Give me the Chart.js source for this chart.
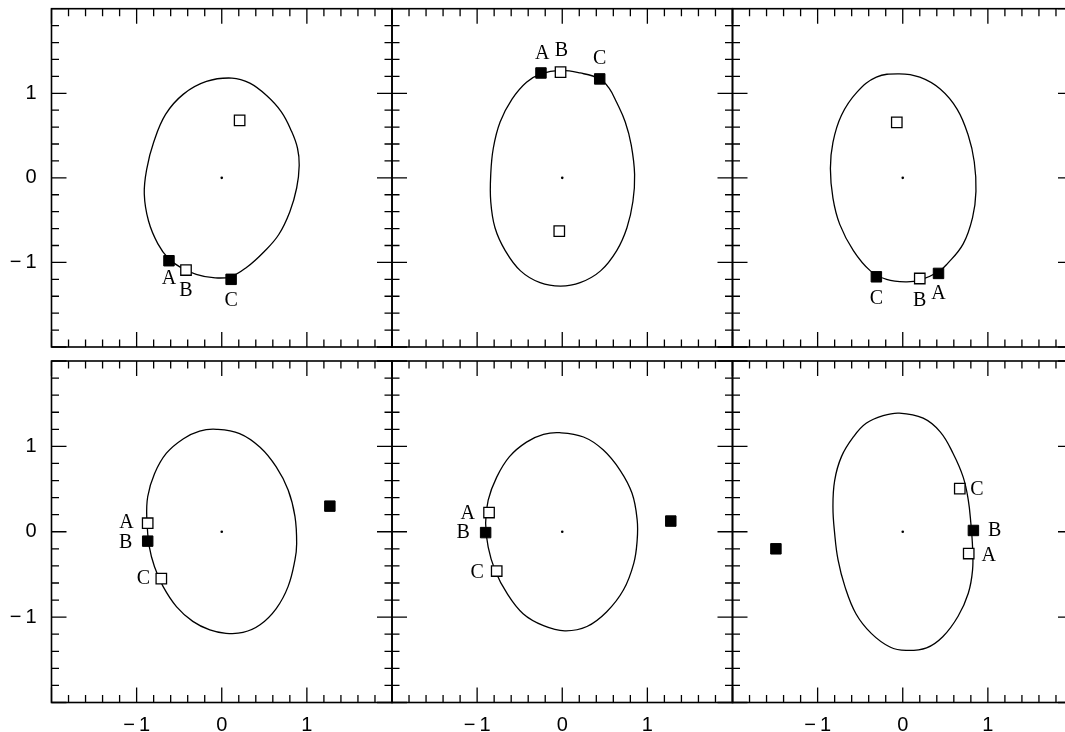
<!DOCTYPE html>
<html lang="en">
<head>
  <meta charset="UTF-8" />
  <title>Six panels - orbits</title>
  <style>
    html, body { margin: 0; padding: 0; background: #fff; overflow: hidden; }
    #wrap { position: relative; width: 1065px; height: 732px; overflow: hidden; }
    #wrap canvas { position: absolute; left: 0; top: 0; }
  </style>
</head>
<body>
  <div id="wrap">
    <canvas id="p1" width="1090" height="732"></canvas>
    <canvas id="p2" width="1090" height="732"></canvas>
    <canvas id="p3" width="1090" height="732"></canvas>
    <canvas id="p4" width="1090" height="732"></canvas>
    <canvas id="p5" width="1090" height="732"></canvas>
    <canvas id="p6" width="1090" height="732"></canvas>
  </div>

  <script src="https://cdn.jsdelivr.net/npm/chart.js"></script>
  <script>
    // axis range and ticks (same for every panel)
    const axisMin = -2, axisMax = 2, majorStep = 1, minorStep = 0.2;
    const centre = [[0, 0]];

    // panel 1 (top left) - closed curves, last point joins back to the first
    const curve1 = [[0.12,1.18],[0.33,1.12],[0.53,0.97],[0.70,0.78],[0.82,0.55],[0.89,0.35],[0.91,0.15],[0.88,-0.12],[0.80,-0.40],[0.67,-0.67],[0.50,-0.87],[0.29,-1.06],[0.10,-1.17],[-0.10,-1.18],[-0.30,-1.14],[-0.48,-1.06],[-0.62,-0.96],[-0.75,-0.78],[-0.86,-0.51],[-0.91,-0.19],[-0.88,0.11],[-0.80,0.42],[-0.66,0.75],[-0.45,0.99],[-0.18,1.14]];
    const filled1 = [[-0.62,-0.98],[0.11,-1.20]];
    const open1 = [[-0.42,-1.09],[0.21,0.68]];
    const letters1 = [['A',-0.62,-1.19],['B',-0.42,-1.33],['C',0.11,-1.45]];

    // panel 2 (top middle)
    const curve2 = [[-0.02,1.27],[0.21,1.24],[0.44,1.17],[0.55,1.06],[0.64,0.89],[0.74,0.66],[0.81,0.39],[0.85,0.04],[0.83,-0.28],[0.76,-0.59],[0.64,-0.86],[0.45,-1.10],[0.21,-1.24],[-0.02,-1.28],[-0.26,-1.24],[-0.49,-1.10],[-0.67,-0.86],[-0.79,-0.59],[-0.84,-0.28],[-0.84,0.04],[-0.81,0.35],[-0.73,0.66],[-0.59,0.93],[-0.42,1.13],[-0.25,1.23]];
    const filled2 = [[-0.25,1.24],[0.44,1.17]];
    const open2 = [[-0.02,1.25],[-0.035,-0.63]];
    const letters2 = [['A',-0.235,1.47],['B',-0.01,1.50],['C',0.44,1.41]];

    // panel 3 (top right)
    const curve3 = [[-0.04,1.23],[0.20,1.19],[0.44,1.05],[0.64,0.81],[0.77,0.50],[0.84,0.19],[0.86,-0.16],[0.82,-0.47],[0.71,-0.78],[0.52,-1.02],[0.42,-1.11],[0.20,-1.21],[0.03,-1.23],[-0.19,-1.20],[-0.38,-1.10],[-0.58,-0.86],[-0.74,-0.55],[-0.82,-0.24],[-0.85,0.11],[-0.82,0.42],[-0.72,0.74],[-0.54,1.01],[-0.31,1.19]];
    const filled3 = [[-0.31,-1.17],[0.42,-1.13]];
    const open3 = [[0.20,-1.19],[-0.07,0.655]];
    const letters3 = [['C',-0.31,-1.43],['B',0.20,-1.45],['A',0.42,-1.37]];

    // panel 4 (bottom left)
    const curve4 = [[-0.06,1.20],[0.21,1.15],[0.45,0.99],[0.64,0.76],[0.78,0.49],[0.86,0.18],[0.88,-0.14],[0.86,-0.33],[0.78,-0.64],[0.64,-0.90],[0.45,-1.09],[0.25,-1.18],[0.05,-1.19],[-0.14,-1.15],[-0.34,-1.05],[-0.53,-0.88],[-0.69,-0.64],[-0.79,-0.41],[-0.85,-0.18],[-0.88,0.14],[-0.87,0.41],[-0.79,0.68],[-0.65,0.92],[-0.45,1.09],[-0.26,1.18]];
    const filled4 = [[-0.87,-0.11],[1.27,0.30]];
    const open4 = [[-0.87,0.10],[-0.71,-0.55]];
    const letters4 = [['A',-1.12,0.10],['B',-1.13,-0.13],['C',-0.92,-0.55]];

    // panel 5 (bottom middle)
    const curve5 = [[-0.03,1.16],[0.25,1.11],[0.48,0.96],[0.68,0.72],[0.82,0.45],[0.88,0.14],[0.88,-0.10],[0.84,-0.37],[0.72,-0.68],[0.52,-0.94],[0.29,-1.11],[0.03,-1.16],[-0.22,-1.10],[-0.46,-0.96],[-0.65,-0.72],[-0.79,-0.45],[-0.87,-0.18],[-0.90,0.10],[-0.87,0.37],[-0.77,0.64],[-0.62,0.88],[-0.42,1.05],[-0.22,1.14]];
    const filled5 = [[-0.90,-0.01],[1.275,0.125]];
    const open5 = [[-0.86,0.225],[-0.77,-0.46]];
    const letters5 = [['A',-1.11,0.21],['B',-1.165,-0.015],['C',-1.00,-0.475]];

    // panel 6 (bottom right)
    const curve6 = [[-0.04,1.39],[0.24,1.33],[0.44,1.17],[0.59,0.92],[0.71,0.64],[0.77,0.37],[0.80,0.10],[0.82,-0.18],[0.82,-0.45],[0.77,-0.72],[0.65,-0.99],[0.47,-1.23],[0.28,-1.36],[0.04,-1.39],[-0.15,-1.35],[-0.37,-1.19],[-0.55,-0.96],[-0.68,-0.64],[-0.76,-0.33],[-0.80,-0.02],[-0.82,0.29],[-0.80,0.60],[-0.72,0.88],[-0.58,1.11],[-0.43,1.27],[-0.23,1.36]];
    const filled6 = [[0.83,0.015],[-1.49,-0.20]];
    const open6 = [[0.67,0.505],[0.775,-0.255]];
    const letters6 = [['C',0.87,0.495],['B',1.08,0.01],['A',1.01,-0.28]];

    // page layout of the panel boxes
    const colLeft = [51.5, 392, 732.5];
    const rowTop = [5.5, 361];
    const boxW = 340.5, boxH = 341.5;
    const canvasW = 1090, canvasH = 732;

    const panels = [
      { id: 'p1', col: 0, row: 0, curve: curve1, filled: filled1, open: open1, letters: letters1 },
      { id: 'p2', col: 1, row: 0, curve: curve2, filled: filled2, open: open2, letters: letters2 },
      { id: 'p3', col: 2, row: 0, curve: curve3, filled: filled3, open: open3, letters: letters3 },
      { id: 'p4', col: 0, row: 1, curve: curve4, filled: filled4, open: open4, letters: letters4 },
      { id: 'p5', col: 1, row: 1, curve: curve5, filled: filled5, open: open5, letters: letters5 },
      { id: 'p6', col: 2, row: 1, curve: curve6, filled: filled6, open: open6, letters: letters6 }
    ];

    const pts = arr => arr.map(([x, y]) => ({ x, y }));

    const tickText = v => {
      if (v <= axisMin || v >= axisMax) return '';
      return v < 0 ? '\u2212\u2009' + Math.abs(v) : String(v);
    };

    // make the curve dataset a closed smooth loop (the way the radar chart does it)
    const closeLoop = {
      id: 'closeLoop',
      afterDatasetsUpdate(chart) {
        const line = chart.getDatasetMeta(0).dataset;
        line._loop = true;
        line._fullLoop = true;
        line.points = line.points;
      }
    };

    // frame with inward ticks on all four sides
    const frameTicks = {
      id: 'frameTicks',
      afterDatasetsDraw(chart) {
        const { ctx, chartArea: a, scales: { x, y } } = chart;
        const n = Math.round((axisMax - axisMin) / minorStep);
        const perMajor = Math.round(majorStep / minorStep);
        ctx.save();
        ctx.strokeStyle = '#000';
        ctx.lineWidth = 1.3;
        ctx.beginPath();
        for (let i = 0; i <= n; i++) {
          const v = axisMin + i * minorStep;
          const len = i % perMajor === 0 ? 15 : 7.5;
          const px = x.getPixelForValue(v), py = y.getPixelForValue(v);
          ctx.moveTo(px, a.bottom); ctx.lineTo(px, a.bottom - len);
          ctx.moveTo(px, a.top); ctx.lineTo(px, a.top + len);
          ctx.moveTo(a.left, py); ctx.lineTo(a.left + len, py);
          ctx.moveTo(a.right, py); ctx.lineTo(a.right - len, py);
        }
        ctx.stroke();
        ctx.lineWidth = 1.6;
        ctx.strokeRect(a.left, a.top, a.right - a.left, a.bottom - a.top);
        ctx.restore();
      }
    };

    const lettersFor = items => ({
      id: 'letters',
      afterDatasetsDraw(chart) {
        const { ctx, scales: { x, y } } = chart;
        ctx.save();
        ctx.font = '20px "Liberation Serif", "DejaVu Serif", serif';
        ctx.fillStyle = '#000';
        ctx.textAlign = 'center';
        ctx.textBaseline = 'middle';
        items.forEach(([t, vx, vy]) => ctx.fillText(t, x.getPixelForValue(vx), y.getPixelForValue(vy)));
        ctx.restore();
      }
    });

    const noPad = s => { s.paddingLeft = 0; s.paddingRight = 0; s.paddingTop = 0; s.paddingBottom = 0; };

    panels.forEach(p => {
      const L = colLeft[p.col], T = rowTop[p.row];
      const showY = p.col === 0, showX = p.row === 1;
      const bottomSpace = canvasH - (T + boxH);
      const tickFont = { family: '"Liberation Sans", Arial, sans-serif', size: 20 };

      new Chart(document.getElementById(p.id), {
        type: 'scatter',
        data: {
          datasets: [
            { data: pts(p.curve), showLine: true, tension: 0.4, borderColor: '#000', borderWidth: 1.3,
              pointRadius: 0, fill: false, order: 3 },
            { data: pts(centre), pointStyle: 'circle', pointRadius: 1.3, backgroundColor: '#000', borderWidth: 0, order: 2 },
            { data: pts(p.open), pointStyle: 'rect', pointRadius: 7.4, backgroundColor: '#fff',
              borderColor: '#000', borderWidth: 1.3, order: 1 },
            { data: pts(p.filled), pointStyle: 'rect', pointRadius: 7.4, backgroundColor: '#000',
              borderColor: '#000', borderWidth: 1, order: 0 }
          ]
        },
        options: {
          responsive: false,
          animation: false,
          events: [],
          layout: {
            padding: {
              left: showY ? 0 : L,
              top: T,
              right: canvasW - (L + boxW),
              bottom: showX ? 0 : bottomSpace
            }
          },
          plugins: { legend: { display: false }, tooltip: { enabled: false } },
          scales: {
            x: {
              type: 'linear', min: axisMin, max: axisMax, display: showX,
              grid: { display: false, drawTicks: false }, border: { display: false },
              ticks: { stepSize: majorStep, autoSkip: false, maxRotation: 0, padding: 11,
                       color: '#000', font: tickFont, callback: tickText },
              afterFit: s => { s.height = showX ? bottomSpace : 0; noPad(s); }
            },
            y: {
              type: 'linear', min: axisMin, max: axisMax, display: showY,
              grid: { display: false, drawTicks: false }, border: { display: false },
              ticks: { stepSize: majorStep, autoSkip: false, padding: 15,
                       color: '#000', font: tickFont, callback: tickText },
              afterFit: s => { s.width = showY ? L : 0; noPad(s); }
            }
          }
        },
        plugins: [closeLoop, frameTicks, lettersFor(p.letters)]
      });
    });
  </script>
</body>
</html>
